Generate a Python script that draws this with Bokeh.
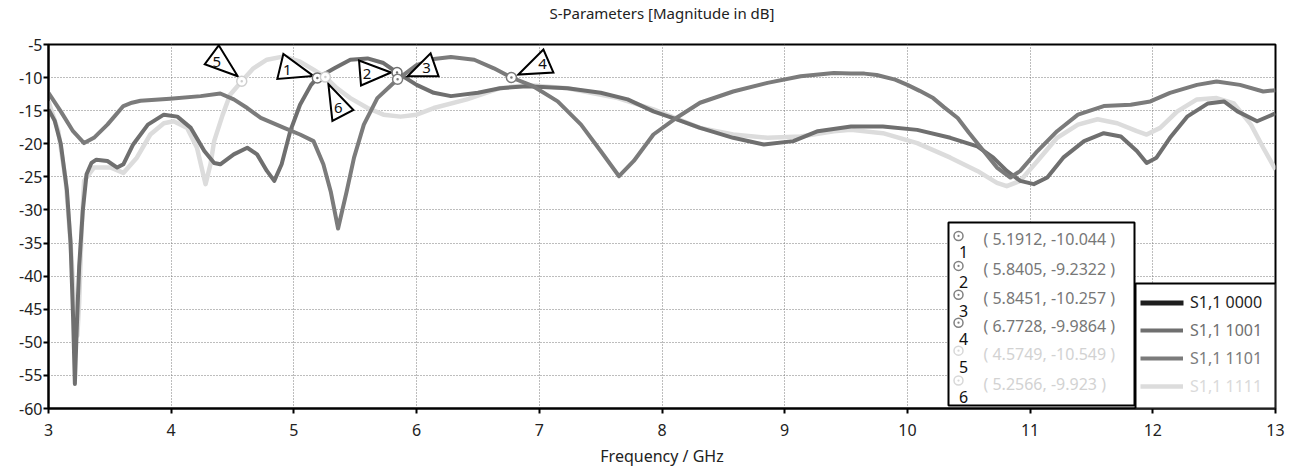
from bokeh.plotting import figure
from bokeh.models import Range1d, FixedTicker, Legend, LegendItem, BoxAnnotation, Label, Title
from bokeh.embed import file_html
from bokeh.resources import INLINE
from bokeh.core.properties import value

# ---------------- data ----------------
title_text = "S-Parameters [Magnitude in dB]"
x_ticks = [3, 4, 5, 6, 7, 8, 9, 10, 11, 12, 13]
x_tick_labels = ["3", "4", "5", "6", "7", "8", "9", "10", "11", "12", "13"]
y_ticks = [-60, -55, -50, -45, -40, -35, -30, -25, -20, -15, -10, -5]
y_tick_labels = ["-60", "-55", "-50", "-45", "-40", "-35", "-30", "-25", "-20", "-15", "-10", "-5"]

series_names = ["S1,1 0000", "S1,1 1001", "S1,1 1101", "S1,1 1111"]

# S1,1 0000 : not visible in the picture (no data drawn)
s0000_f = []
s0000_db = []

# S1,1 1001
s1001_f = [3.0, 3.05, 3.1, 3.15, 3.18, 3.2, 3.215, 3.23, 3.25, 3.28, 3.31, 3.35, 3.39, 3.48, 3.56,
           3.61, 3.69, 3.81, 3.94, 4.05, 4.16, 4.27, 4.35, 4.40, 4.51, 4.62, 4.70, 4.78, 4.84,
           4.90, 4.97, 5.05, 5.14, 5.1912, 5.33, 5.46, 5.6, 5.73, 5.8405, 6.0, 6.14, 6.28, 6.5,
           6.68, 6.9, 7.23, 7.5, 7.72, 7.93, 8.12, 8.31, 8.58, 8.83, 9.07, 9.27, 9.54, 9.8, 10.08,
           10.35, 10.57, 10.7, 10.81, 10.92, 11.03, 11.14, 11.27, 11.44, 11.6, 11.74, 11.87,
           11.95, 12.03, 12.14, 12.28, 12.45, 12.58, 12.69, 12.85, 13.0]
s1001_db = [-14.8, -16.5, -20.0, -27.0, -35.0, -46.0, -56.3, -48.0, -38.5, -30.0, -24.6, -22.9,
            -22.4, -22.6, -23.6, -23.1, -20.1, -17.1, -15.6, -15.9, -17.6, -21.1, -22.9, -23.1,
            -21.6, -20.6, -21.6, -24.1, -25.6, -23.1, -18.1, -14.1, -11.1, -10.044, -8.6, -7.3,
            -7.1, -7.8, -9.2322, -11.1, -12.3, -12.8, -12.3, -11.6, -11.3, -11.6, -12.3, -13.3,
            -15.1, -16.3, -17.6, -19.1, -20.1, -19.6, -18.1, -17.4, -17.4, -17.9, -19.1, -20.4,
            -22.1, -24.1, -25.6, -26.1, -25.1, -22.1, -19.6, -18.4, -18.9, -21.1, -22.9, -22.1,
            -19.1, -15.9, -13.9, -13.6, -15.1, -16.6, -15.4]

# S1,1 1101
s1101_f = [3.0, 3.1, 3.2, 3.29, 3.37, 3.48, 3.55, 3.61, 3.68, 3.75, 3.99, 4.24, 4.40, 4.51,
           4.62, 4.73, 4.92, 5.05, 5.16, 5.24, 5.30, 5.36, 5.43, 5.49, 5.57, 5.68, 5.8451, 6.0,
           6.14, 6.28, 6.47, 6.63, 6.7728, 6.95, 7.15, 7.34, 7.5, 7.65, 7.77, 7.93, 8.1, 8.31,
           8.58, 8.86, 9.13, 9.40, 9.54, 9.65, 9.75, 9.9, 10.0, 10.1, 10.21, 10.3, 10.41, 10.5,
           10.6, 10.73, 10.84, 10.92, 11.06, 11.22, 11.39, 11.6, 11.82, 11.98, 12.14, 12.36,
           12.52, 12.71, 12.9, 13.0]
s1101_db = [-12.3, -15.1, -18.1, -19.9, -19.1, -17.1, -15.6, -14.3, -13.8, -13.5, -13.2, -12.8,
            -12.4, -13.3, -14.6, -16.1, -17.6, -18.6, -19.6, -23.1, -27.2, -32.8, -27.2, -22.1,
            -17.1, -13.1, -10.257, -8.1, -7.2, -6.9, -7.3, -8.6, -9.9864, -11.3, -13.6, -17.1,
            -21.1, -24.9, -22.6, -18.6, -16.3, -13.8, -12.1, -10.8, -9.8, -9.3, -9.4, -9.4, -9.6,
            -10.3, -11.1, -12.0, -13.1, -14.5, -16.1, -18.3, -20.6, -23.6, -25.1, -24.1, -21.1,
            -18.1, -15.6, -14.3, -14.1, -13.6, -12.3, -11.1, -10.6, -11.1, -12.1, -11.9]

# S1,1 1111
s1111_f = [3.0, 3.08, 3.14, 3.18, 3.21, 3.235, 3.25, 3.27, 3.29, 3.37, 3.51, 3.61, 3.72, 3.83,
           3.94, 4.02, 4.13, 4.21, 4.28, 4.32, 4.35, 4.42, 4.48, 4.5749, 4.67, 4.78, 4.92, 5.05,
           5.16, 5.2566, 5.35, 5.46, 5.6, 5.73, 5.87, 6.0, 6.14, 6.41, 6.68, 6.9, 7.23, 7.64,
           7.93, 8.31, 8.58, 8.86, 9.13, 9.4, 9.54, 9.8, 10.08, 10.35, 10.57, 10.73, 10.81,
           10.92, 11.06, 11.22, 11.39, 11.55, 11.71, 11.87, 11.95, 12.06, 12.2, 12.36, 12.52,
           12.66, 12.8, 12.9, 13.0]
s1111_db = [-13.6, -18.1, -25.6, -35.0, -44.0, -49.0, -44.0, -33.0, -25.6, -23.6, -23.6, -24.4,
            -22.1, -18.6, -16.9, -16.6, -17.6, -20.6, -26.1, -23.1, -19.6, -15.6, -12.6, -10.549,
            -8.6, -7.3, -6.8, -7.6, -8.8, -9.923, -11.6, -13.1, -14.6, -15.6, -15.9, -15.6,
            -14.6, -13.3, -11.6, -11.1, -11.6, -13.1, -14.8, -17.6, -18.6, -19.1, -18.9, -18.1,
            -17.9, -18.4, -19.9, -22.1, -24.1, -25.9, -26.4, -25.6, -22.6, -19.1, -17.1, -16.3,
            -16.9, -18.1, -18.6, -17.6, -15.1, -13.3, -13.1, -13.9, -17.1, -20.6, -23.9]

# markers
marker_ids = ["1", "2", "3", "4", "5", "6"]
marker_f = [5.1912, 5.8405, 5.8451, 6.7728, 4.5749, 5.2566]
marker_db = [-10.044, -9.2322, -10.257, -9.9864, -10.549, -9.923]
marker_text = ["( 5.1912, -10.044 )", "( 5.8405, -9.2322 )", "( 5.8451, -10.257 )",
               "( 6.7728, -9.9864 )", "( 4.5749, -10.549 )", "( 5.2566, -9.923 )"]

# ---------------- layout / style ----------------
W, H = 1294, 473
FL, FR, FT, FB = 48, 1275, 43, 408          # frame edges in page pixels
X0, X1, Y0, Y1 = 3, 13, -60, -5
PXX = (FR - FL) / (X1 - X0)
PXY = (FB - FT) / (Y1 - Y0)
FONT = "Noto Sans"

DARK1 = "#6f6f6f"
DARK2 = "#7b7b7b"
LIGHT = "#dcdcdc"
BLACKISH = "#1e1e1e"

p = figure(width=W, height=H, output_backend="svg", toolbar_location=None,
           x_range=Range1d(X0, X1), y_range=Range1d(Y0, Y1),
           min_border_left=FL, min_border_right=W - FR, min_border_top=FT,
           min_border_bottom=H - FB)
p.background_fill_color = "white"
p.border_fill_color = "white"
p.outline_line_color = "black"
p.outline_line_width = 2

p.title.text = title_text
p.title.align = "center"
p.title.text_font = FONT
p.title.text_font_size = "15px"
p.title.text_font_style = "normal"
p.title.text_color = "#222222"
p.title.standoff = 0
# small spacer between the title and the frame
p.add_layout(Title(text=" ", text_font_size="5px", standoff=14), "above")

p.xaxis.ticker = FixedTicker(ticks=x_ticks)
p.xaxis.major_label_overrides = dict(zip(x_ticks, x_tick_labels))
p.yaxis.ticker = FixedTicker(ticks=y_ticks)
p.yaxis.major_label_overrides = dict(zip(y_ticks, y_tick_labels))
p.xaxis.axis_label = "Frequency / GHz"
for ax in (p.xaxis, p.yaxis):
    ax.axis_line_color = "black"
    ax.axis_line_width = 2
    ax.major_tick_line_color = "black"
    ax.major_tick_line_width = 2
    ax.major_tick_out = 5
    ax.major_tick_in = 0
    ax.minor_tick_out = 0
    ax.minor_tick_in = 0
    ax.major_label_text_font = FONT
    ax.major_label_text_font_size = "16px"
    ax.major_label_text_color = "#222222"
    ax.axis_label_text_font = FONT
    ax.axis_label_text_font_size = "16px"
    ax.axis_label_text_font_style = "normal"
    ax.axis_label_text_color = "#222222"
p.xaxis.major_label_standoff = 10
p.xaxis.axis_label_standoff = 6
p.yaxis.major_label_standoff = 1

p.grid.grid_line_color = "#7a7a7a"
p.grid.grid_line_dash = "1 2"
p.grid.grid_line_width = 1

# ---------------- curves ----------------
r1111 = p.line(s1111_f, s1111_db, line_color=LIGHT, line_width=4.5, line_join="round")
r1001 = p.line(s1001_f, s1001_db, line_color=DARK1, line_width=4, line_join="round")
r1101 = p.line(s1101_f, s1101_db, line_color=DARK2, line_width=4, line_join="round")
r0000 = p.line(s0000_f, s0000_db, line_color=BLACKISH, line_width=4)

# marker callout triangles (pixel offsets from the marker point; y down)
tri_off = [[(-4, -2), (-34, -24), (-40, 1)],
           [(-6, 0), (-38, -12), (-36, 13)],
           [(10, -3), (33, -26), (41, -3)],
           [(7, -3), (32, -28), (42, -5)],
           [(-4, -5), (-23, -36), (-37, -17)],
           [(3, 7), (7, 44), (28, 33)]]
lab_off = [(-30, -8), (-30, 1), (29, -11), (31, -14), (-25, -19), (13, 31)]
tri_xs, tri_ys, lab_x, lab_y = [], [], [], []
for f, d, tri, lo in zip(marker_f, marker_db, tri_off, lab_off):
    tri_xs.append([f + dx / PXX for dx, dy in tri])
    tri_ys.append([d - dy / PXY for dx, dy in tri])
    lab_x.append(f + lo[0] / PXX)
    lab_y.append(d - lo[1] / PXY)
p.patches(tri_xs, tri_ys, fill_color="white", line_color="black", line_width=2,
          line_join="miter")
p.text(lab_x, lab_y, text=marker_ids, text_align="center", text_baseline="middle",
       text_font=value(FONT), text_font_size="15px", text_color="#111111")

m_colors = [DARK1, DARK1, DARK2, DARK2, "#cfcfcf", "#cfcfcf"]
p.scatter(marker_f, marker_db, marker="circle_dot", size=10, fill_color="white",
          line_color=m_colors, line_width=1.5)

# ---------------- helpers for frame-relative screen positions ----------------
def sxp(px):
    return px - FL

def syp(py):
    return FB - py

# ---------------- marker table ----------------
table_box = BoxAnnotation(left=sxp(948), right=sxp(1134), top=syp(222), bottom=syp(405),
                          left_units="screen", right_units="screen", top_units="screen",
                          bottom_units="screen", fill_color="white", fill_alpha=1.0,
                          line_color="black", line_width=2, line_alpha=1.0)
p.add_layout(table_box)

row_y = [238, 268, 297, 325, 353, 383]
txt_colors = ["#777777", "#777777", "#777777", "#777777", "#d2d2d2", "#d2d2d2"]
icon_x, icon_y = [], []
for i, (t, c) in enumerate(zip(marker_text, txt_colors)):
    p.add_layout(Label(x=sxp(983), y=syp(row_y[i]), x_units="screen", y_units="screen",
                       text=t, text_font=FONT, text_font_size="16px", text_color=c,
                       text_align="left", text_baseline="middle"))
    p.add_layout(Label(x=sxp(963), y=syp(row_y[i] + 13), x_units="screen", y_units="screen",
                       text=marker_ids[i], text_font=FONT, text_font_size="16px",
                       text_color="#111111", text_align="center", text_baseline="middle"))
    icon_x.append(X0 + (958 - FL) / PXX)
    icon_y.append(Y1 - (row_y[i] - 3 - FT) / PXY)
p.scatter(icon_x, icon_y, marker="circle_dot", size=9, fill_color="white",
          line_color=["#808080"] * 4 + ["#d8d8d8"] * 2, line_width=1.5, level="overlay")

# ---------------- legend ----------------
leg_box = BoxAnnotation(left=sxp(1135), right=sxp(1275), top=syp(283), bottom=syp(408),
                        left_units="screen", right_units="screen", top_units="screen",
                        bottom_units="screen", fill_color="white", fill_alpha=1.0,
                        line_color="black", line_width=2, line_alpha=1.0)
p.add_layout(leg_box)
# swatch for the series that has no visible curve
swatch0 = BoxAnnotation(left=sxp(1140), right=sxp(1183), top=syp(300), bottom=syp(305),
                        left_units="screen", right_units="screen", top_units="screen",
                        bottom_units="screen", fill_color=BLACKISH, fill_alpha=1.0,
                        line_alpha=0)
p.add_layout(swatch0)
label_colors = ["#1e1e1e", "#707070", "#7c7c7c", "#dadada"]
for i, (name, rend, lc) in enumerate(zip(series_names, [r0000, r1001, r1101, r1111], label_colors)):
    leg = Legend(items=[LegendItem(label=name, renderers=[rend])],
                 location=(sxp(1140), syp(288 + 28 * (i + 1))),
                 padding=0, margin=0, spacing=0, glyph_width=43, glyph_height=28,
                 label_height=28, label_standoff=7, label_text_font=FONT,
                 label_text_font_size="16px", label_text_color=lc,
                 border_line_alpha=0, background_fill_alpha=0)
    p.add_layout(leg)

open("out.html", "w").write(file_html(p, INLINE))
